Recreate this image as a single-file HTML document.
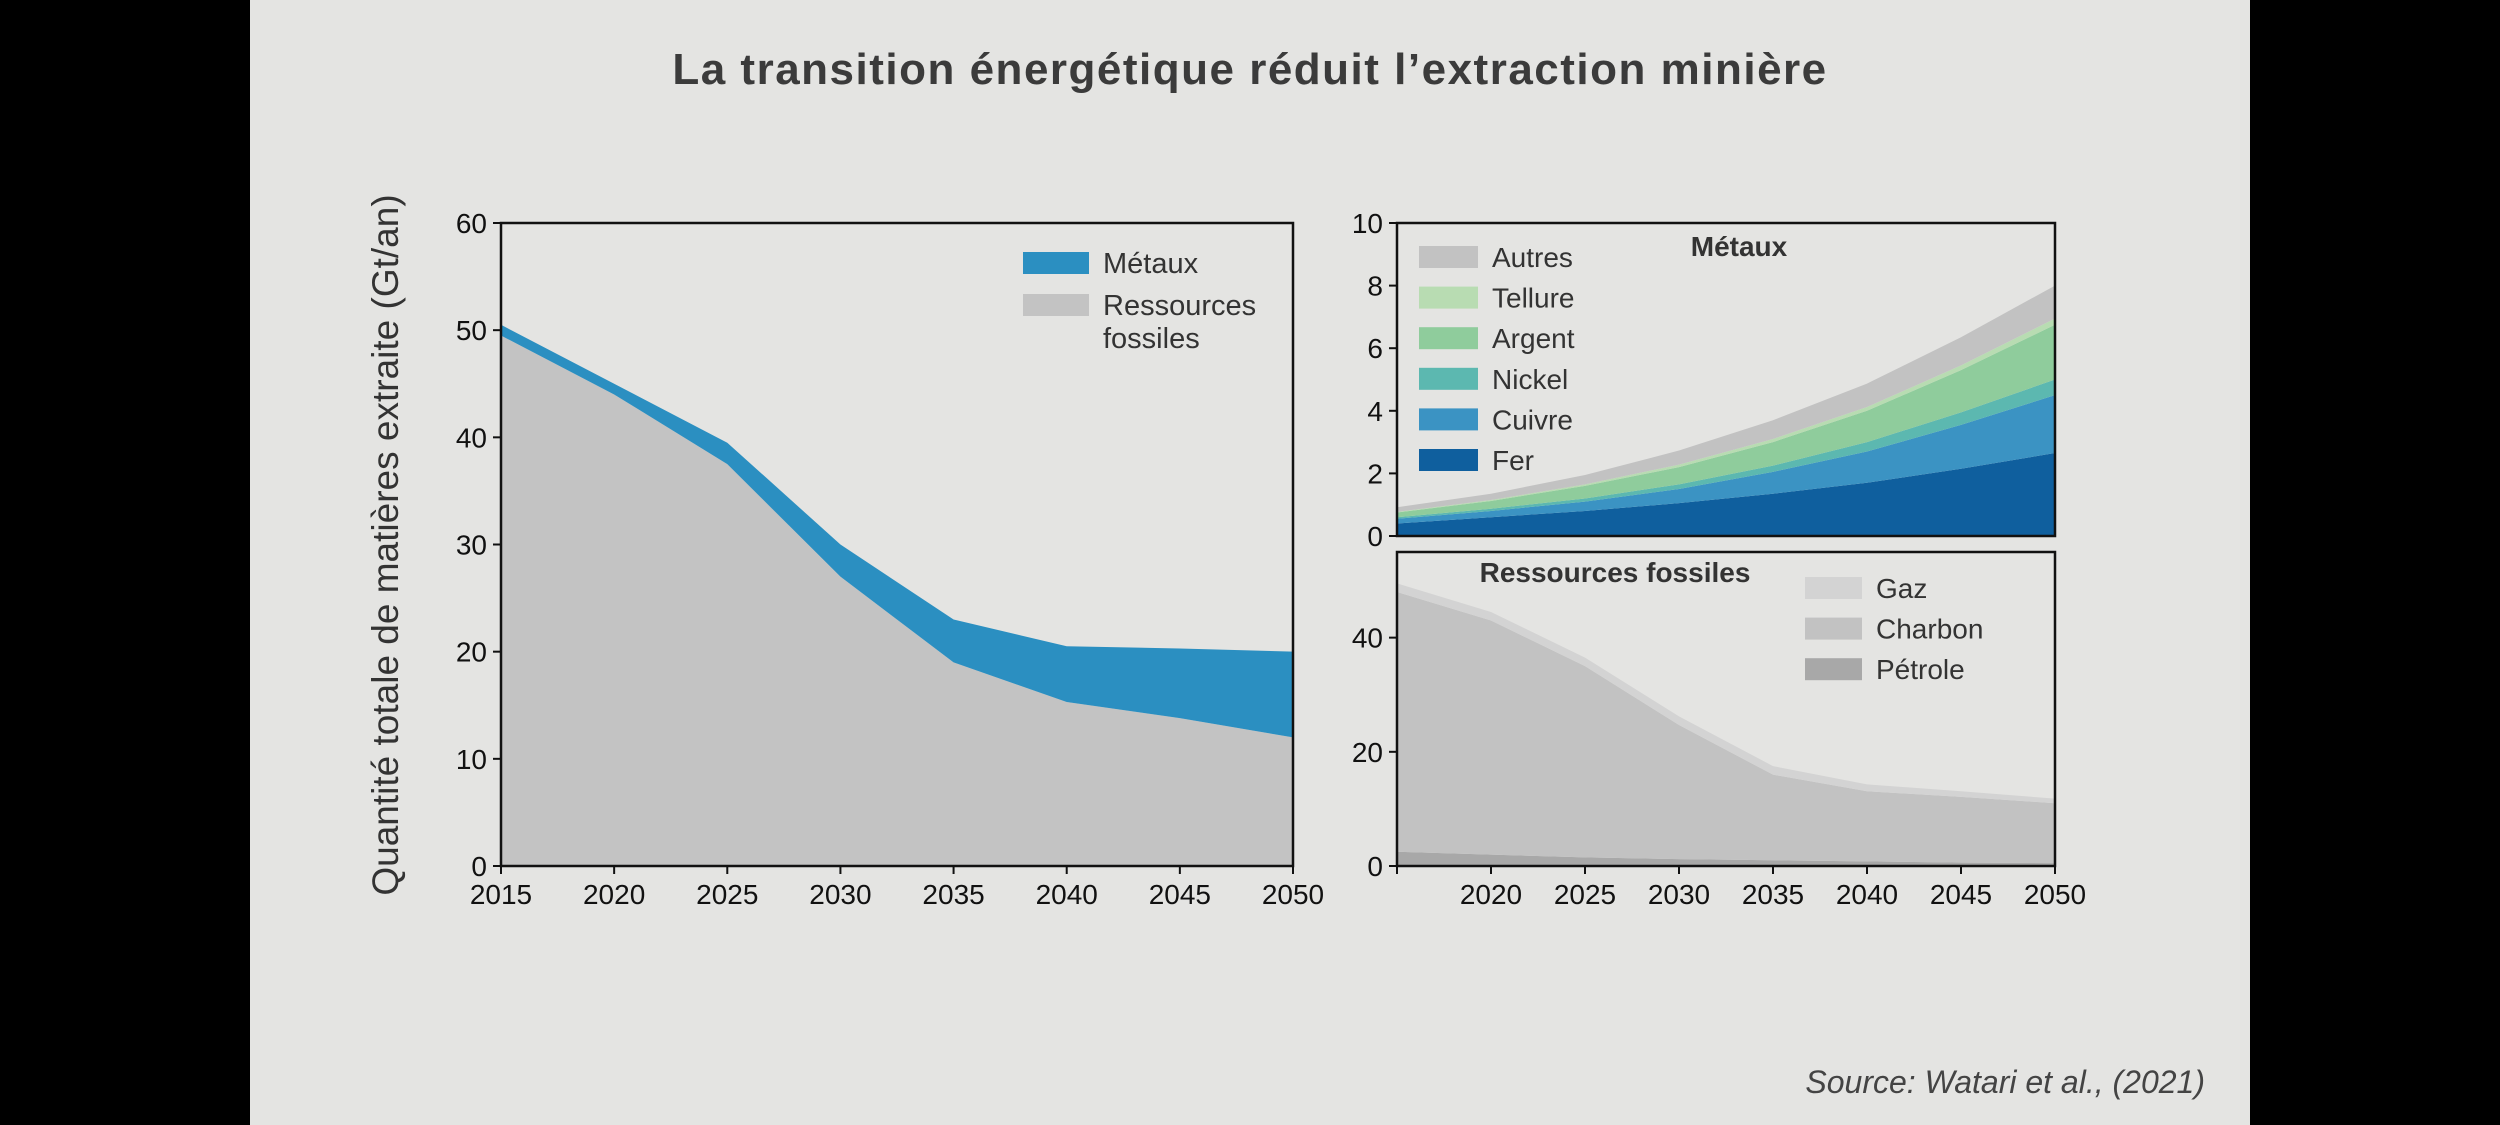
<!DOCTYPE html>
<html><head><meta charset="utf-8"><style>
html,body{margin:0;padding:0;width:2500px;height:1125px;overflow:hidden;background:#000}
svg{display:block}
text{font-family:"Liberation Sans",sans-serif}
</style></head><body>
<svg id="chart" width="2500" height="1125" viewBox="0 0 2500 1125">
<rect x="250" y="0" width="2000" height="1125" fill="#e4e4e2"/>
<text x="1250" y="84" text-anchor="middle" font-size="44" font-weight="bold" letter-spacing="1.5" fill="#3b3b3b">La transition énergétique réduit l’extraction minière</text>
<text transform="translate(398,545) rotate(-90)" text-anchor="middle" font-size="37" fill="#333">Quantité totale de matières extraite (Gt/an)</text>
<text x="2205" y="1093" text-anchor="end" font-size="32" font-style="italic" fill="#444">Source: Watari et al., (2021)</text>
<g id="left"></g><g id="rtop"></g><g id="rbot"></g>
</svg>
<script>
const years=[2015,2020,2025,2030,2035,2040,2045,2050];
const fossilTotal=[49.5,44,37.5,27,19,15.3,13.8,12];
const metalsTotal=[1,1,2,3,4,5.2,6.5,8];
const fer=[0.4,0.6,0.8,1.05,1.35,1.7,2.15,2.65];
const cuivre=[0.15,0.2,0.3,0.45,0.7,1.0,1.4,1.85];
const nickel=[0.05,0.07,0.1,0.15,0.2,0.3,0.4,0.5];
const argent=[0.15,0.25,0.4,0.55,0.75,1.0,1.35,1.75];
const tellure=[0.02,0.03,0.05,0.08,0.1,0.12,0.15,0.2];
const autres=[0.15,0.2,0.3,0.45,0.6,0.75,0.9,1.05];
const petrole=[2.5,2,1.5,1.2,1,0.8,0.6,0.5];
const charbon=[45.5,41,33.5,23.5,15,12.3,11.5,10.5];
const gaz=[1.5,1.5,1.5,1.5,1.5,1.2,1,0.8];
const leftTicks=[0,10,20,30,40,50,60];
const topTicks=[0,2,4,6,8,10];
const botTicks=[0,20,40];
const xTickLabels=[2015,2020,2025,2030,2035,2040,2045,2050];
const NS="http://www.w3.org/2000/svg";
function el(p,t,a){const e=document.createElementNS(NS,t);for(const k in a)e.setAttribute(k,a[k]);p.appendChild(e);return e;}
function panel(g,box,ymax,series,colors,names,yt,xFirst,showX){
  const sx=v=>box.x+(v-2015)/35*box.w, sy=v=>box.y+box.h-v/ymax*box.h;
  let base=years.map(()=>0);
  series.forEach((s,i)=>{
    const top=base.map((b,j)=>b+s[j]);
    let d=years.map((y,j)=>(j?'L':'M')+sx(y)+','+sy(top[j])).join('');
    for(let j=years.length-1;j>=0;j--)d+='L'+sx(years[j])+','+sy(base[j]);
    const p=el(g,'path',{d:d+'Z',fill:colors[i]});
    
    
    base=top;
  });
  const r=el(g,'rect',{x:box.x,y:box.y,width:box.w,height:box.h,fill:'none',stroke:'#111','stroke-width':2.5});
  
  
  yt.forEach(v=>{
    el(g,'line',{x1:box.x-8,x2:box.x,y1:sy(v),y2:sy(v),stroke:'#111','stroke-width':2});
    const t=el(g,'text',{x:box.x-14,y:sy(v)+10,'text-anchor':'end','font-size':28,fill:'#111'});
    t.textContent=v;
    
    
  });
  if(!showX)return;
  xTickLabels.forEach((v,i)=>{
    el(g,'line',{x1:sx(v),x2:sx(v),y1:box.y+box.h,y2:box.y+box.h+8,stroke:'#111','stroke-width':2});
    if(i===0&&!xFirst)return;
    const t=el(g,'text',{x:sx(v),y:box.y+box.h+38,'text-anchor':'middle','font-size':28,fill:'#111'});
    t.textContent=v;
    
    
  });
}
function legend(g,x,y,step,w,h,items,fs){
  items.forEach((it,i)=>{
    const r=el(g,'rect',{x:x,y:y+i*step-h/2,width:w,height:h,fill:it[1]});
    
    
    const t=el(g,'text',{x:x+w+14,y:y+i*step+10,'font-size':fs,fill:'#333'});
    t.textContent=it[0];
    
    
  });
}
const L=document.getElementById('left');
panel(L,{x:501,y:223,w:792,h:643},60,[fossilTotal,metalsTotal],['#c3c3c3','#2b8fc1'],['fossil','metals'],leftTicks,true,true);
legend(L,1023,263,42,66,22,[['Métaux','#2b8fc1'],['Ressources','#c3c3c3']],29);
const ft=el(L,'text',{x:1103,y:348,'font-size':29,fill:'#333'});ft.textContent='fossiles';


const T=document.getElementById('rtop');
panel(T,{x:1397,y:223,w:658,h:313},10,[fer,cuivre,nickel,argent,tellure,autres],['#0f5f9e','#3b93c3','#5cb8b0','#8fcc9c','#b8dcb2','#c2c2c2'],['fer','cuivre','nickel','argent','tellure','autres'],topTicks,false,false);
legend(T,1419,257,40.6,59,22,[['Autres','#c2c2c2'],['Tellure','#b8dcb2'],['Argent','#8fcc9c'],['Nickel','#5cb8b0'],['Cuivre','#3b93c3'],['Fer','#0f5f9e']],28);
const tt=el(T,'text',{x:1739,y:256,'text-anchor':'middle','font-size':28,'font-weight':'bold',fill:'#333'});tt.textContent='Métaux';


const B=document.getElementById('rbot');
panel(B,{x:1397,y:552,w:658,h:314},55,[petrole,charbon,gaz],['#a8a8a8','#c2c2c2','#d3d3d3'],['petrole','charbon','gaz'],botTicks,false,true);
legend(B,1805,588,40.6,57,22,[['Gaz','#d3d3d3'],['Charbon','#c2c2c2'],['Pétrole','#a8a8a8']],28);
const bt=el(B,'text',{x:1615,y:582,'text-anchor':'middle','font-size':28,'font-weight':'bold',fill:'#333'});bt.textContent='Ressources fossiles';


</script>
</body></html>
